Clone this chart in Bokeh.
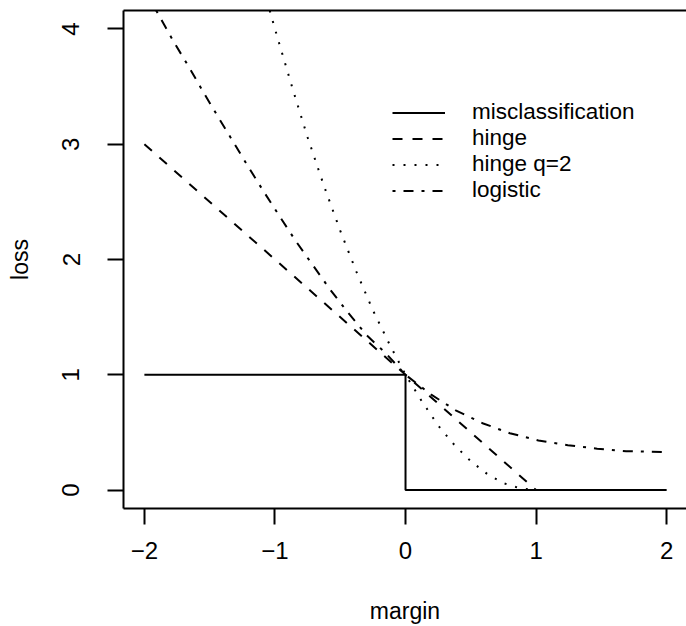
from bokeh.plotting import figure
from bokeh.models import Range1d, FixedTicker, LinearAxis, Legend, LegendItem
from bokeh.embed import file_html
from bokeh.resources import INLINE

# ---- data ----
margin_ticks = [-2, -1, 0, 1, 2]
margin_tick_labels = ["\u22122", "\u22121", "0", "1", "2"]
loss_ticks = [0, 1, 2, 3, 4]
loss_tick_labels = ["0", "1", "2", "3", "4"]

misclass_x = [-2, 0, 0, 2]
misclass_y = [1, 1, 0, 0]

hinge_x = [-2, 1, 2]
hinge_y = [3, 0, 0]

hinge2_x = [-1.04, -1.0, -0.875, -0.75, -0.625, -0.5, -0.375, -0.25, -0.125, 0.0,
            0.125, 0.25, 0.375, 0.5, 0.625, 0.75, 0.875, 1.0, 2.0]
hinge2_y = [4.16, 4.0, 3.52, 3.06, 2.64, 2.25, 1.89, 1.56, 1.27, 1.0,
            0.77, 0.56, 0.39, 0.25, 0.14, 0.06, 0.016, 0.0, 0.0]

logistic_x = [-1.91, -1.773, -1.658, -1.547, -1.432, -1.314, -1.199, -1.080, -0.959,
              -0.837, -0.707, -0.577, -0.439, -0.296, -0.153, 0.0, 0.197, 0.388,
              0.590, 0.799, 1.018, 1.243, 1.468, 1.690, 2.0]
logistic_y = [4.16, 3.884, 3.668, 3.449, 3.230, 3.010, 2.794, 2.578, 2.365,
              2.154, 1.946, 1.739, 1.537, 1.341, 1.189, 1.0, 0.828, 0.689,
              0.580, 0.493, 0.430, 0.389, 0.359, 0.337, 0.329]

series_names = ["misclassification", "hinge", "hinge q=2", "logistic"]

FONT = "Liberation Sans"

p = figure(width=686, height=626,
           x_range=Range1d(-2.16, 2.152), y_range=Range1d(-0.16, 4.16),
           output_backend="svg", toolbar_location=None,
           min_border_left=123, min_border_right=0, min_border_top=10, min_border_bottom=117,
           background_fill_color="white", border_fill_color="white")
p.outline_line_color = None
p.grid.visible = False

# axes
for ax in (p.xaxis[0], p.yaxis[0]):
    ax.axis_line_color = "black"
    ax.axis_line_width = 2
    ax.major_tick_line_width = 2
    ax.major_tick_line_color = "black"
    ax.major_tick_out = 16
    ax.major_tick_in = 0
    ax.minor_tick_line_color = None
    ax.major_label_text_font = FONT
    ax.major_label_text_font_size = "24px"
    ax.major_label_text_color = "black"
    ax.axis_label_text_font = FONT
    ax.axis_label_text_font_size = "23px"
    ax.axis_label_text_font_style = "normal"
    ax.axis_label_text_color = "black"
    ax.axis_label_text_line_height = 1.0
    ax.major_label_text_line_height = 1.0

xa = p.xaxis[0]
xa.ticker = FixedTicker(ticks=margin_ticks)
xa.major_label_overrides = {t: l for t, l in zip(margin_ticks, margin_tick_labels)}
xa.axis_label = "margin"
xa.major_label_standoff = 17
xa.axis_label_standoff = 36

ya = p.yaxis[0]
ya.ticker = FixedTicker(ticks=loss_ticks)
ya.major_label_overrides = {t: l for t, l in zip(loss_ticks, loss_tick_labels)}
ya.major_label_orientation = "vertical"
ya.axis_label = "loss"
ya.major_label_standoff = 28
ya.axis_label_standoff = 27

# top border of the box
top = LinearAxis(ticker=FixedTicker(ticks=[]), major_label_text_font_size="0px",
                 axis_line_width=2, axis_line_color="black",
                 major_tick_line_color=None, minor_tick_line_color=None)
p.add_layout(top, "above")

r1 = p.line(misclass_x, misclass_y, line_color="black", line_width=2)
r2 = p.line(hinge_x, hinge_y, line_color="black", line_width=2, line_dash="10 10")
r3 = p.line(hinge2_x, hinge2_y, line_color="black", line_width=2, line_dash="2 9")
r4 = p.line(logistic_x, logistic_y, line_color="black", line_width=2, line_dash="3 8 10 8")

# legend: one row per entry so the rows sit as tightly as in the reference
legend_offsets = [383, 357, 331, 305]
for name, rend, off in zip(series_names, [r1, r2, r3, r4], legend_offsets):
    lg = Legend(items=[LegendItem(label=name, renderers=[rend])],
                location=(269, off), glyph_width=53, glyph_height=25, label_height=25,
                label_standoff=27, spacing=0, padding=0, margin=0,
                border_line_alpha=0, background_fill_alpha=0,
                label_text_font=FONT, label_text_font_size="22.5px", label_text_color="black")
    p.add_layout(lg)

open("out.html", "w").write(file_html(p, INLINE))
